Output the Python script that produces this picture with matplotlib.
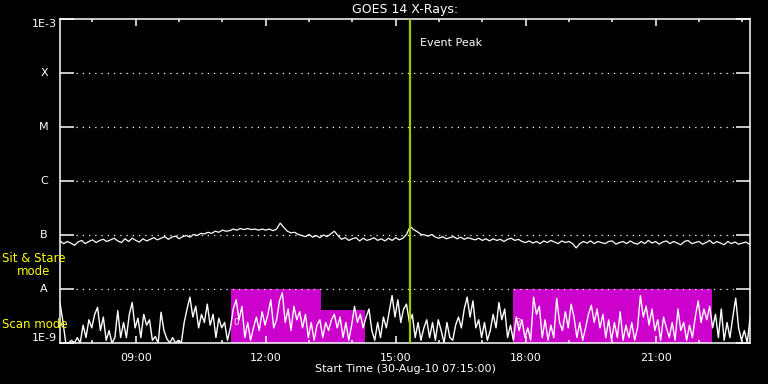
import matplotlib
matplotlib.use("Agg")
import matplotlib.pyplot as plt
import matplotlib.ticker as mticker
import matplotlib.transforms as mtransforms
import numpy as np

plt.rcParams['font.family'] = 'DejaVu Sans'
plt.rcParams['font.size'] = 8

# time axis in decimal hours of 30-Aug-10
t_start = 7.25
t_end = 23.18

# GOES long channel, log10 flux, one value every 5 min from 07:15
goes_log = [
    -7.11, -7.16, -7.12, -7.15, -7.19, -7.13, -7.10, -7.16, -7.12, -7.09, -7.14, -7.10,
    -7.08, -7.12, -7.09, -7.06, -7.11, -7.14, -7.07, -7.12, -7.06, -7.10, -7.13, -7.07, -7.11, -7.08,
    -7.05, -7.09, -7.06, -7.03, -7.08, -7.04, -7.02, -7.07, -7.03, -7.01, -7.04,
    -6.99, -7.01, -6.97, -6.98, -6.95, -6.97, -6.93, -6.95, -6.91, -6.93, -6.92,
    -6.89, -6.91, -6.88, -6.90, -6.88, -6.90, -6.89, -6.91, -6.89,
    -6.91, -6.89, -6.92, -6.89, -6.78, -6.86,
    -6.93, -6.96, -6.95, -6.99,
    -7.01, -7.03, -6.99, -7.04, -7.01, -7.05, -7.00, -7.03,
    -6.98, -6.93, -7.01,
    -7.08, -7.05, -7.10, -7.07, -7.05, -7.11, -7.06, -7.10, -7.08, -7.05, -7.10, -7.07, -7.11, -7.06, -7.10, -7.05, -7.09, -7.06,
    -6.99, -6.84, -6.90, -6.94, -6.99, -7.00, -7.02, -6.99,
    -7.04, -7.06, -7.03, -7.07, -7.05, -7.03, -7.07, -7.04, -7.08, -7.05, -7.07,
    -7.09, -7.06, -7.10, -7.07, -7.11, -7.07, -7.10, -7.08, -7.12, -7.08, -7.06, -7.10, -7.08, -7.12,
    -7.14, -7.11, -7.15, -7.12, -7.16, -7.11, -7.14, -7.10, -7.13, -7.16, -7.11, -7.14, -7.12, -7.16,
    -7.24, -7.16, -7.12, -7.15, -7.11, -7.16, -7.12, -7.14,
    -7.16, -7.12, -7.11, -7.17, -7.14, -7.12, -7.16, -7.11, -7.15, -7.17, -7.12, -7.16, -7.10,
    -7.15, -7.12, -7.17, -7.13, -7.11, -7.16, -7.12, -7.15, -7.18, -7.12, -7.10, -7.16, -7.14,
    -7.12, -7.17, -7.14, -7.10, -7.16, -7.12, -7.15, -7.18, -7.12, -7.16, -7.13, -7.17, -7.15, -7.13, -7.17,
]

# scan-mode activity, decades above 1E-9, one value every 4 min from 07:15
scan_dec = [
    0.74, 0.40, 0.00, 0.00, 0.05, 0.00, 0.10, 0.00, 0.33, 0.10, 0.43, 0.28, 0.53, 0.66, 0.23, 0.48, 0.05, 0.23, 0.00, 0.10,
    0.60, 0.10, 0.38, 0.10, 0.53, 0.75, 0.28, 0.46, 0.10, 0.53, 0.33, 0.43, 0.05, 0.12, 0.00, 0.57, 0.23, 0.08, 0.00, 0.10,
    0.00, 0.05, 0.00, 0.38, 0.63, 0.85, 0.48, 0.68, 0.28, 0.53, 0.38, 0.72, 0.33, 0.53, 0.10, 0.46, 0.28, 0.38, 0.05, 0.28,
    0.63, 0.80, 0.43, 0.68, 0.10, 0.38, 0.05, 0.28, 0.48, 0.23, 0.58, 0.33, 0.53, 0.80, 0.28, 0.43, 0.78, 0.93, 0.38, 0.63,
    0.23, 0.68, 0.43, 0.58, 0.28, 0.53, 0.10, 0.38, 0.05, 0.33, 0.43, 0.10, 0.38, 0.23, 0.43, 0.53, 0.28, 0.48, 0.10, 0.38,
    0.05, 0.33, 0.68, 0.38, 0.53, 0.28, 0.48, 0.63, 0.23, 0.05, 0.38, 0.10, 0.48, 0.28, 0.58, 0.88, 0.48, 0.80, 0.38, 0.63,
    0.72, 0.38, 0.53, 0.10, 0.38, 0.05, 0.28, 0.43, 0.10, 0.38, 0.05, 0.43, 0.23, 0.00, 0.38, 0.10, 0.05, 0.33, 0.48, 0.28,
    0.63, 0.85, 0.48, 0.78, 0.28, 0.43, 0.10, 0.38, 0.05, 0.23, 0.53, 0.28, 0.75, 0.43, 0.63, 0.10, 0.33, 0.05, 0.48, 0.23,
    0.43, 0.10, 0.28, 0.05, 0.85, 0.53, 0.68, 0.10, 0.43, 0.05, 0.33, 0.10, 0.83, 0.38, 0.23, 0.58, 0.28, 0.72, 0.48, 0.10,
    0.38, 0.05, 0.28, 0.53, 0.70, 0.38, 0.63, 0.28, 0.53, 0.10, 0.43, 0.05, 0.38, 0.10, 0.58, 0.05, 0.33, 0.10, 0.38, 0.05,
    0.28, 0.88, 0.48, 0.68, 0.33, 0.63, 0.23, 0.43, 0.05, 0.48, 0.28, 0.10, 0.38, 0.05, 0.63, 0.23, 0.38, 0.05, 0.33, 0.10,
    0.48, 0.78, 0.38, 0.63, 0.43, 0.68, 0.28, 0.53, 0.10, 0.63, 0.05, 0.38, 0.10, 0.48, 0.83, 0.28, 0.05, 0.23, 0.00, 0.48,
]

# observation blocks (hours)
block_start = [11.20, 13.27, 17.70]
block_end = [13.27, 14.30, 22.30]
block_top = [1e-8, 4.1e-9, 1e-8]
block_label = ['0', '', '2']

event_peak = 15.32

ylevels = [1e-9, 1e-8, 1e-7, 1e-6, 1e-5, 1e-4, 1e-3]
ylabels = ['1E-9', 'A', 'B', 'C', 'M', 'X', '1E-3']
xticks = [9, 12, 15, 18, 21]
xticklabels = ['09:00', '12:00', '15:00', '18:00', '21:00']

fig = plt.figure(figsize=(7.68, 3.84), dpi=100, facecolor='black')
ax = fig.add_axes([60 / 768, 41 / 384, 690 / 768, 324 / 384], facecolor='black')
ax.set_yscale('log')

# magenta blocks
for s, e, top, lab in zip(block_start, block_end, block_top, block_label):
    ax.bar(s, top - 1e-9, width=e - s, bottom=1e-9, align='edge', color='#cc00cc', zorder=1)
    if lab:
        ax.text(s + 0.06, 2.4e-9, lab, color='white', fontsize=6.5, ha='left', va='center', zorder=4)

# scan-mode spikes
t_scan = t_start + np.arange(len(scan_dec)) * 4 / 60
ax.plot(t_scan, 10 ** (-9 + np.array(scan_dec)), color='white', lw=1.0, zorder=3)

# GOES curve
t_goes = t_start + np.arange(len(goes_log)) * 5 / 60
ax.plot(t_goes, 10 ** np.array(goes_log), color='white', lw=0.9, zorder=3)

# dotted flare-class lines
for lv in ylevels[1:-1]:
    ax.axhline(lv, xmin=16 / 690, xmax=674 / 690, color='white', lw=0.9,
               linestyle=(0, (1, 4)), zorder=2)

# event peak
ax.axvline(event_peak, color='#99cc00', lw=1.6, zorder=5)
ax.text(event_peak + 0.25, 10 ** (-3.45), 'Event Peak', color='white', fontsize=8, ha='left', va='center')

ax.set_xlim(t_start, t_end)
ax.set_ylim(1e-9, 1e-3)

ax.set_yticks(ylevels)
ax.set_yticklabels([])
ax.yaxis.set_minor_locator(mticker.NullLocator())
ax.set_xticks(xticks)
ax.set_xticklabels(xticklabels)
ax.xaxis.set_minor_locator(mticker.MultipleLocator(1))

# y labels drawn by hand: letters centred, decade labels hugging the axis
trans = mtransforms.blended_transform_factory(ax.transAxes, ax.transData)
for lv, lab in zip(ylevels, ylabels):
    if lab == '1E-3':
        ax.text(-3 / 690, lv, lab, transform=trans, color='white', ha='right', va='top', fontsize=8)
    elif lab == '1E-9':
        ax.text(-3 / 690, lv, lab, transform=trans, color='white', ha='right', va='bottom', fontsize=8)
    else:
        ax.text(-16 / 690, lv, lab, transform=trans, color='white', ha='center', va='center', fontsize=8)

ax.tick_params(axis='y', which='major', direction='in', length=10, width=1.1,
               left=True, right=True, colors='white')
ax.tick_params(axis='x', which='major', direction='in', length=4.7, width=1.1,
               top=True, bottom=True, colors='white', pad=7)
ax.tick_params(axis='x', which='minor', direction='in', length=2.5, width=1.1,
               top=True, bottom=True, colors='white')
for sp in ax.spines.values():
    sp.set_color('white')
    sp.set_linewidth(1.1)

ax.set_title('GOES 14 X-Rays:', color='white', fontsize=9, pad=4)
ax.set_xlabel('Start Time (30-Aug-10 07:15:00)', color='white', fontsize=8, labelpad=1)

# mode annotations
fig.text(34 / 768, 1 - 265 / 384, 'Sit & Stare\nmode', color='yellow', fontsize=8.5,
         ha='center', va='center', linespacing=1.05)
fig.text(2 / 768, 1 - 324 / 384, 'Scan mode', color='yellow', fontsize=8.5,
         ha='left', va='center')

fig.savefig('out.png', dpi=100, facecolor='black')
